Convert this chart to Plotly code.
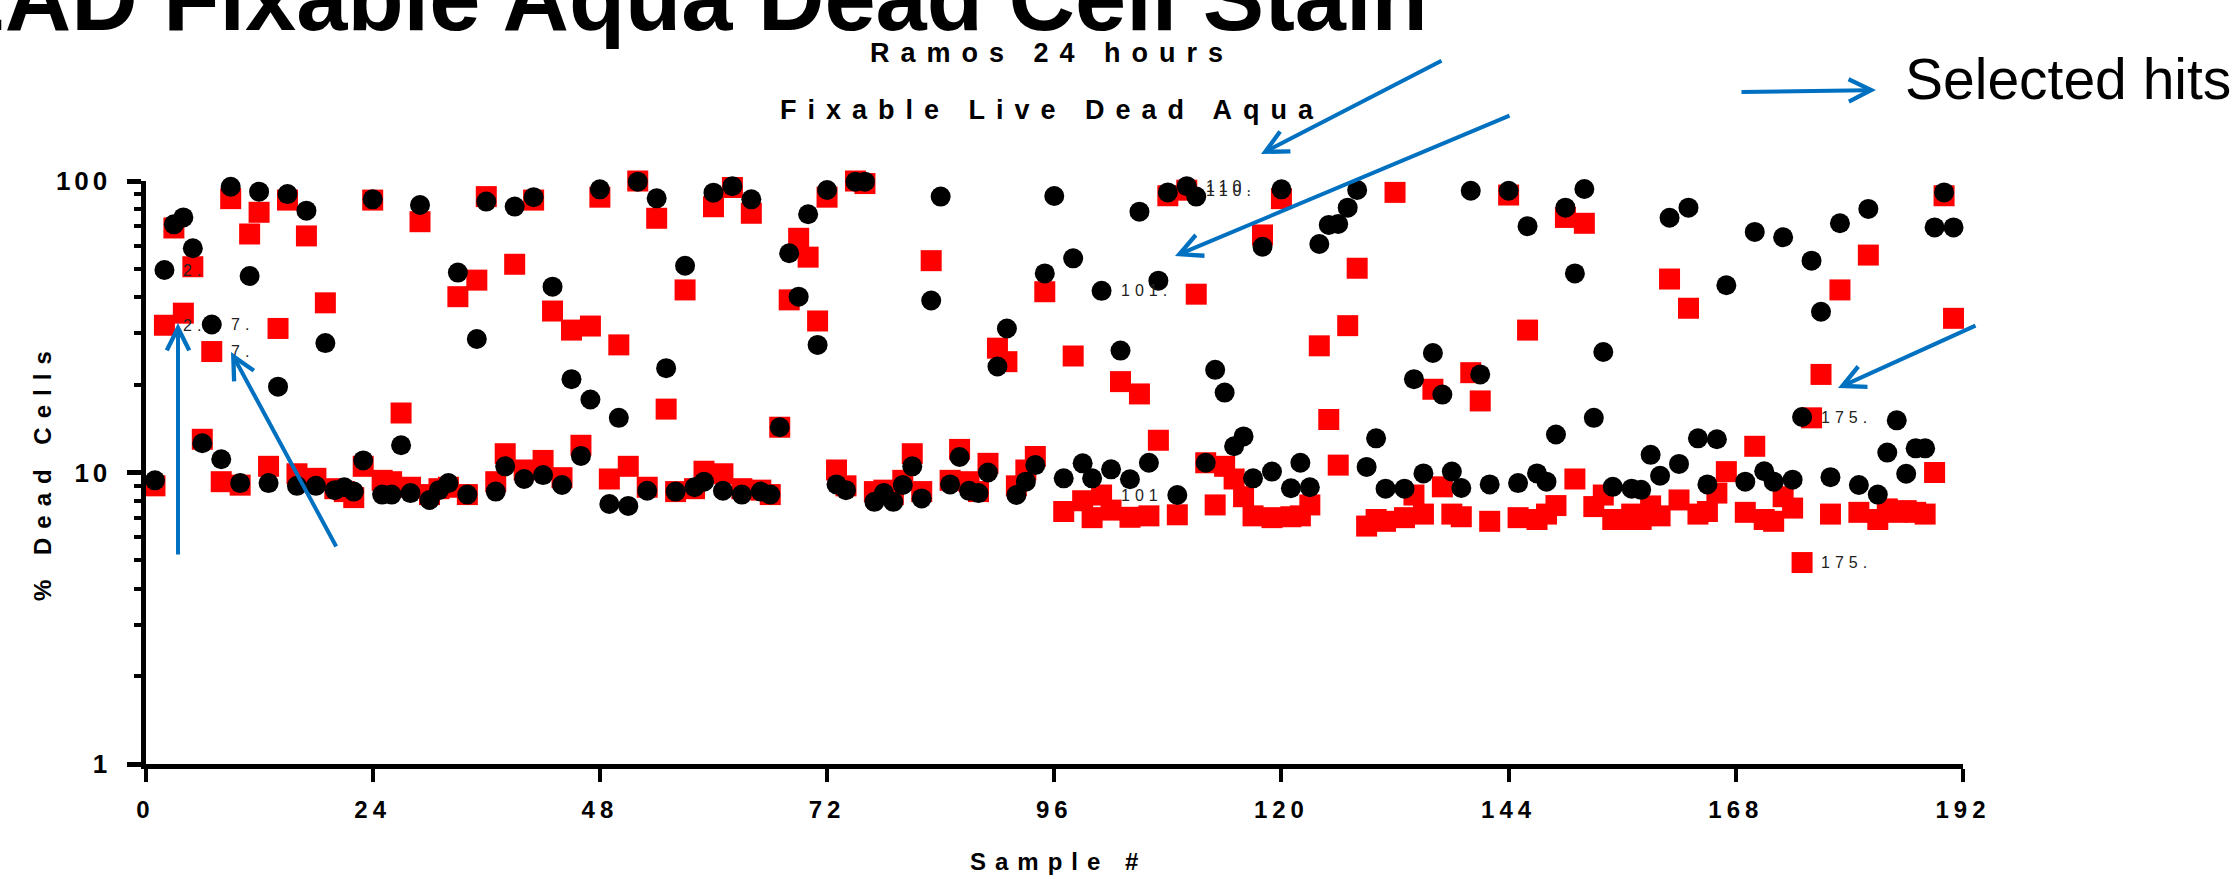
import math
import plotly.graph_objects as go

W, H = 2240, 879

# ---------------- data ----------------
samples = list(range(1, 193))

black_pct = [
    9.4, 49.5, 71, 75, 58.8, 12.6, 32.2, 11.1, 95.6, 9.2, 47.2, 91.9,
    9.2, 19.7, 90.2, 9.0, 79.1, 9.0, 27.8, 8.7, 8.9, 8.6, 11.0, 86.5,
    8.4, 8.4, 12.4, 8.5, 82.7, 8.05, 8.7, 9.2, 48.5, 8.4, 28.7, 85,
    8.6, 10.5, 81.7, 9.5, 88, 9.8, 43.4, 9.06, 20.9, 11.4, 17.8, 93.6,
    7.8, 15.4, 7.68, 99.5, 8.66, 87.2, 22.8, 8.6, 51.2, 8.9, 9.3, 91.2,
    8.66, 96, 8.4, 86.5, 8.6, 8.4, 14.3, 56.5, 40.1, 76.9, 27.4, 93.1,
    9.1, 8.7, 99.5, 99.5, 7.93, 8.5, 7.93, 9.06, 10.5, 8.15, 38.9, 88.4,
    9.1, 11.3, 8.65, 8.5, 10.0, 23.1, 31.2, 8.37, 9.3, 10.6, 48.2, 88.8,
    9.55, 54.3, 10.75, 9.55, 42.0, 10.25, 26.2, 9.48, 78.5, 10.8, 45.5, 91.4,
    8.37, 96, 88.4, 10.8, 22.5, 18.8, 12.3, 13.3, 9.55, 59.5, 10.07, 93.6,
    8.83, 10.8, 8.9, 60.8, 70.7, 71.2, 81, 93.1, 10.45, 13.1, 8.8, None,
    8.8, 20.9, 9.93, 25.7, 18.5, 10.07, 8.85, 92.6, 21.7, 9.1, None, 92.6,
    9.2, 70, 9.93, 9.3, 13.5, 81, 48.2, 93.9, 15.4, 25.9, 8.93, None,
    8.8, 8.72, 11.5, 9.75, 74.8, 10.7, 81, 13.1, 9.1, 13.0, 43.9, None,
    9.3, 66.9, 10.1, 9.3, 64.1, 9.45, 15.5, 53.3, 35.6, 9.64, 71.6, None,
    9.06, 80.2, 8.4, 11.7, 15.1, 9.9, 12.1, 12.1, 69.3, 91.4, 69.3, None,
]

red_pct = [
    9.0, 32, 69, 35.2, 50.8, 13.0, 26.0, 9.3, 87, 9.05, 65.8, 78.1,
    10.5, 31.2, 86, 9.9, 64.8, 9.55, 38.2, 8.8, 8.6, 8.2, 10.5, 86,
    9.4, 9.3, 16.0, 8.9, 72.5, 8.4, 8.8, 8.9, 40.1, 8.4, 45.7, 88.4,
    9.3, 11.6, 51.8, 10.2, 86, 11.0, 35.8, 9.6, 30.8, 12.4, 31.8, 88,
    9.5, 27.4, 10.5, 100, 8.9, 74.5, 16.5, 8.6, 42.3, 8.8, 10.1, 81.6,
    9.9, 95, 8.8, 77.5, 8.7, 8.4, 14.3, 39.1, 63.6, 54.8, 33.1, 88,
    10.2, 9.0, 100, 98, 8.6, 8.7, 8.4, 9.4, 11.6, 8.6, 53.3, None,
    9.4, 12.0, 9.3, 8.6, 10.75, 26.7, 24.0, 9.0, 10.2, 11.35, 41.7, None,
    7.35, 25.1, 8.0, 7.0, 8.37, 7.43, 20.5, 7.02, 18.6, 7.1, 12.9, 89,
    7.16, 93, 40.9, 10.8, 7.74, 10.5, 9.5, 8.26, 7.1, 65.3, 7.0, 87,
    7.05, 7.1, 7.74, 27.2, 15.2, 10.6, 31.9, 50.2, 6.55, 6.9, 6.8, 91.4,
    7.0, 8.37, 7.2, 19.3, 8.93, 7.2, 7.05, 22.0, 17.6, 6.8, None, 89.5,
    7.0, 30.8, 6.9, 7.2, 7.7, 75, 9.5, 71.6, 7.64, 8.37, 6.9, 6.9,
    7.2, 6.9, 7.68, 7.1, 46.1, 8.05, 36.6, 7.2, 7.35, 8.5, 10.07, None,
    7.3, 12.3, 6.9, 6.8, 8.26, 7.55, 4.91, 15.4, 21.7, 7.2, 42.3, None,
    7.3, 55.7, 6.9, 7.5, 7.3, 7.4, 7.3, 7.2, 10.0, 89, 33.8, None,
]

x_tick_vals = [0, 24, 48, 72, 96, 120, 144, 168, 192]
y_tick_text = ["1", "10", "100"]

# point labels (text, sample, series)
label_text = ["2.", "2.", "7.", "7.", "101.", "101", "110.", "110.", "175.", "175."]
label_sample = [2, 2, 7, 7, 101, 101, 110, 110, 175, 175]
label_series = ["black", "red", "black", "red", "black", "red", "black", "red", "black", "red"]

title_text = "LIVE/DEAD Fixable Aqua Dead Cell Stain"
subtitle_lines = ["Ramos 24 hours", "Fixable Live Dead Aqua"]
y_title = "% Dead Cells"
x_title = "Sample #"
legend_text = "Selected hits"

# ---------------- layout geometry (pixels) ----------------
PLOT_L, PLOT_R = 145.5, 1963
PLOT_T, PLOT_B = 181, 764
FONT = "Liberation Sans, Arial, sans-serif"
BLUE = "#0070C0"


def px_x(p):
    return p / W


def px_y(p):
    return 1 - p / H


def spaced(text, px):
    return f'<span style="letter-spacing:{px}px">{text}</span>'


fig = go.Figure()
fig.add_trace(go.Scatter(
    x=samples, y=red_pct, mode="markers", name="red",
    marker=dict(symbol="square", size=21, color="#FF0000", line=dict(width=0)),
    cliponaxis=False, showlegend=False,
))
fig.add_trace(go.Scatter(
    x=samples, y=black_pct, mode="markers", name="black",
    marker=dict(symbol="circle", size=20, color="#000000", line=dict(width=0)),
    cliponaxis=False, showlegend=False,
))

fig.update_layout(
    width=W, height=H,
    margin=dict(l=0, r=0, t=0, b=0, pad=0),
    paper_bgcolor="white", plot_bgcolor="white",
    font=dict(family=FONT, color="black"),
    xaxis=dict(
        domain=[px_x(PLOT_L), px_x(PLOT_R)], automargin=False,
        range=[0, 192], showgrid=False, zeroline=False,
        showline=True, linewidth=5, linecolor="black",
        ticks="outside", ticklen=13, tickwidth=4, tickcolor="black",
        tickmode="array", tickvals=x_tick_vals,
        ticktext=[spaced(str(v), 5) for v in x_tick_vals],
        tickfont=dict(size=24, family=FONT, weight="bold", color="black"),
        ticklabelstandoff=7,
    ),
    yaxis=dict(
        domain=[px_y(PLOT_B), px_y(PLOT_T)], automargin=False,
        type="log", range=[0, 2], showgrid=False, zeroline=False,
        showline=True, linewidth=5, linecolor="black",
        ticks="outside", ticklen=14, tickwidth=5, tickcolor="black",
        tickmode="linear", tick0=0, dtick=1,
        labelalias={t: spaced(t, 4) for t in y_tick_text},
        tickfont=dict(size=26, family=FONT, weight="bold", color="black"),
        ticklabelstandoff=10,
        minor=dict(ticks="outside", ticklen=7, tickwidth=4, tickcolor="black",
                   dtick="D1", showgrid=False),
    ),
)

ann = []
# big clipped title
ann.append(dict(text=title_text, xref="paper", yref="paper",
                x=px_x(1430), y=px_y(-2), xanchor="right", yanchor="middle",
                showarrow=False, font=dict(size=92, family=FONT, weight="bold", color="black")))
# subtitles
for line, cy in zip(subtitle_lines, [53, 110]):
    ann.append(dict(text=spaced(line, 11), xref="paper", yref="paper",
                    x=px_x(1052), y=px_y(cy), xanchor="center", yanchor="middle",
                    showarrow=False, font=dict(size=27, family=FONT, weight="bold", color="black")))
# axis titles
ann.append(dict(text=spaced(y_title, 9), xref="paper", yref="paper",
                x=px_x(42), y=px_y(472), xanchor="center", yanchor="middle", textangle=-90,
                showarrow=False, font=dict(size=24, family=FONT, weight="bold", color="black")))
ann.append(dict(text=spaced(x_title, 9), xref="paper", yref="paper",
                x=px_x(1058), y=px_y(861), xanchor="center", yanchor="middle",
                showarrow=False, font=dict(size=24, family=FONT, weight="bold", color="black")))
# legend text
ann.append(dict(text=legend_text, xref="paper", yref="paper",
                x=px_x(1903), y=px_y(79), xanchor="left", yanchor="middle",
                showarrow=False, font=dict(size=57, family=FONT, color="black")))

# point labels
for t, s, ser in zip(label_text, label_sample, label_series):
    v = (black_pct if ser == "black" else red_pct)[s - 1]
    ann.append(dict(text=spaced(t, 5), xref="x", yref="y", x=s, y=math.log10(v),
                    xanchor="left", yanchor="middle", xshift=17, showarrow=False,
                    font=dict(size=16, family=FONT, color="#222222")))

# blue arrows: (tail_x, tail_y, tip_x, tip_y) in pixels
arrows = [
    (178, 556, 178, 323),
    (337, 548, 231, 352),
    (1443, 60, 1261, 154),
    (1511, 115, 1175, 256),
    (1977, 325, 1838, 388),
    (1740, 92, 1876, 90),
]
for tx, ty, hx, hy in arrows:
    ann.append(dict(text="", xref="paper", yref="paper", x=px_x(hx), y=px_y(hy),
                    ax=tx - hx, ay=ty - hy, axref="pixel", ayref="pixel",
                    showarrow=True, arrowhead=5, arrowsize=1.1, arrowwidth=4,
                    arrowcolor=BLUE, standoff=0, startstandoff=0))

fig.update_layout(annotations=ann)
fig.write_html(
    "out.html",
    config={"displayModeBar": False},
    post_script="document.body.style.margin='0';document.body.style.overflow='hidden';",
)
